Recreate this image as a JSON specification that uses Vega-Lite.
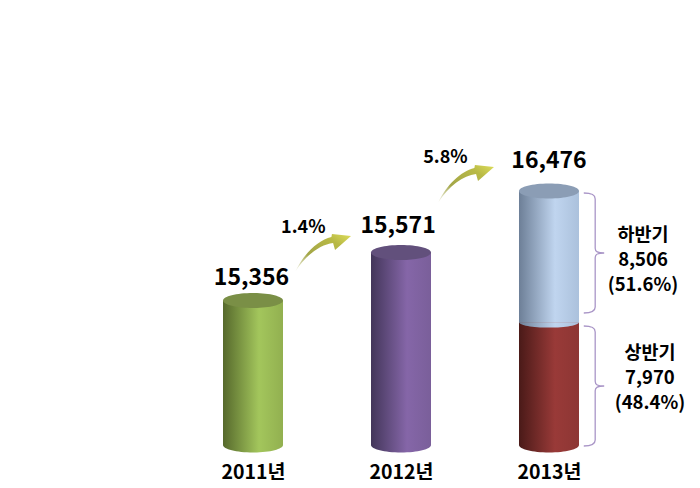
{
"$schema":"https://vega.github.io/schema/vega-lite/v6.json",
"width":700,"height":445,"autosize":{"type":"none"},"padding":{"left":0,"top":0,"right":0,"bottom":43},
"background":"white",
"config":{"view":{"stroke":null},"text":{"font":"Noto Sans CJK KR"}},
"datasets":{
"bars":[
{"year":2011,"segment":"2011년","base":0,"value":9373},
{"year":2012,"segment":"2012년","base":0,"value":12487},
{"year":2013,"segment":"상반기","base":0,"value":7970},
{"year":2013,"segment":"하반기","base":7970,"value":16476}],
"totals":[
{"year":2010.99,"value":10815,"text":"15,356"},
{"year":2011.98,"value":14190,"text":"15,571"},
{"year":2013,"value":18420,"text":"16,476"}],
"growth":[
{"year":2011.34,"value":14060,"text":"1.4%"},
{"year":2012.30,"value":18600,"text":"5.8%"}],
"arrows":[
{"year":2011.473,"value":12455},
{"year":2012.439,"value":16930}],
"braces":[
{"year":2013.304,"value":12455},
{"year":2013.304,"value":3827}],
"side":[
{"year":2013.635,"value":13620,"text":"하반기"},
{"year":2013.635,"value":12000,"text":"8,506"},
{"year":2013.635,"value":10380,"text":"(51.6%)"},
{"year":2013.682,"value":5950,"text":"상반기"},
{"year":2013.682,"value":4330,"text":"7,970"},
{"year":2013.682,"value":2710,"text":"(48.4%)"}]
},
"encoding":{
"x":{"field":"year","type":"quantitative","scale":{"domain":[2009.2905,2014.0203],"nice":false,"zero":false,"padding":0},
"axis":{"title":null,"values":[2011,2012,2013],"labelExpr":"datum.value + '년'","domain":false,"ticks":false,"grid":false,"labelPadding":18,"labelFont":"Noto Sans CJK KR","labelFontSize":19.5,"labelFontWeight":"bold","labelColor":"#000000","labelOverlap":false}},
"y":{"field":"value","type":"quantitative","scale":{"domain":[0,28866],"nice":false,"padding":0},"axis":null}
},
"layer":[
{"data":{"name":"bars"},"transform":[{"filter":"datum.segment=='2011년'"}],"mark":{"type":"bar","size":60,"orient":"vertical","color":{"x1":0,"x2":1,"y1":0,"y2":0,"gradient":"linear","stops":[{"offset":0,"color":"#56692c"},{"offset":0.6,"color":"#a3c65c"},{"offset":1,"color":"#92b050"}]}},"encoding":{"y2":{"field":"base"}}},
{"data":{"name":"bars"},"transform":[{"filter":"datum.segment=='2011년'"}],"mark":{"type":"point","filled":true,"opacity":1,"size":3600,"shape":"M-1,0 C-1,0.1381 -0.5523,0.25 0,0.25 C0.5523,0.25 1,0.1381 1,0 Z","fill":{"x1":0,"x2":1,"y1":0,"y2":0,"gradient":"linear","stops":[{"offset":0,"color":"#56692c"},{"offset":0.6,"color":"#a3c65c"},{"offset":1,"color":"#92b050"}]}},"encoding":{"y":{"field":"base","type":"quantitative"}}},
{"data":{"name":"bars"},"transform":[{"filter":"datum.segment=='2012년'"}],"mark":{"type":"bar","size":60,"orient":"vertical","color":{"x1":0,"x2":1,"y1":0,"y2":0,"gradient":"linear","stops":[{"offset":0,"color":"#43365a"},{"offset":0.6,"color":"#8566a8"},{"offset":1,"color":"#7a5f9a"}]}},"encoding":{"y2":{"field":"base"}}},
{"data":{"name":"bars"},"transform":[{"filter":"datum.segment=='2012년'"}],"mark":{"type":"point","filled":true,"opacity":1,"size":3600,"shape":"M-1,0 C-1,0.1381 -0.5523,0.25 0,0.25 C0.5523,0.25 1,0.1381 1,0 Z","fill":{"x1":0,"x2":1,"y1":0,"y2":0,"gradient":"linear","stops":[{"offset":0,"color":"#43365a"},{"offset":0.6,"color":"#8566a8"},{"offset":1,"color":"#7a5f9a"}]}},"encoding":{"y":{"field":"base","type":"quantitative"}}},
{"data":{"name":"bars"},"transform":[{"filter":"datum.segment=='상반기'"}],"mark":{"type":"bar","size":60,"orient":"vertical","color":{"x1":0,"x2":1,"y1":0,"y2":0,"gradient":"linear","stops":[{"offset":0,"color":"#4a1a18"},{"offset":0.6,"color":"#993a38"},{"offset":1,"color":"#8d3634"}]}},"encoding":{"y2":{"field":"base"}}},
{"data":{"name":"bars"},"transform":[{"filter":"datum.segment=='상반기'"}],"mark":{"type":"point","filled":true,"opacity":1,"size":3600,"shape":"M-1,0 C-1,0.1381 -0.5523,0.25 0,0.25 C0.5523,0.25 1,0.1381 1,0 Z","fill":{"x1":0,"x2":1,"y1":0,"y2":0,"gradient":"linear","stops":[{"offset":0,"color":"#4a1a18"},{"offset":0.6,"color":"#993a38"},{"offset":1,"color":"#8d3634"}]}},"encoding":{"y":{"field":"base","type":"quantitative"}}},
{"data":{"name":"bars"},"transform":[{"filter":"datum.segment=='하반기'"}],"mark":{"type":"bar","size":60,"orient":"vertical","color":{"x1":0,"x2":1,"y1":0,"y2":0,"gradient":"linear","stops":[{"offset":0,"color":"#6d7f97"},{"offset":0.6,"color":"#c0d5ef"},{"offset":1,"color":"#abc1dc"}]}},"encoding":{"y2":{"field":"base"}}},
{"data":{"name":"bars"},"transform":[{"filter":"datum.segment=='하반기'"}],"mark":{"type":"point","filled":true,"opacity":1,"size":3600,"shape":"M-1,0 C-1,0.1 -0.5523,0.18 0,0.18 C0.5523,0.18 1,0.1 1,0 Z","fill":{"x1":0,"x2":1,"y1":0,"y2":0,"gradient":"linear","stops":[{"offset":0,"color":"#6d7f97"},{"offset":0.6,"color":"#c0d5ef"},{"offset":1,"color":"#abc1dc"}]}},"encoding":{"y":{"field":"base","type":"quantitative"}}},
{"data":{"name":"bars"},"transform":[{"filter":"datum.segment!='상반기'"}],"mark":{"type":"point","filled":true,"opacity":1,"size":3600,"shape":"M-1,0 C-1,-0.1381 -0.5523,-0.25 0,-0.25 C0.5523,-0.25 1,-0.1381 1,0 C1,0.1381 0.5523,0.25 0,0.25 C-0.5523,0.25 -1,0.1381 -1,0 Z"},"encoding":{"color":{"field":"segment","type":"nominal","legend":null,"scale":{"domain":["2011년","2012년","하반기"],"range":["#7a8f46","#62507c","#8b9db5"]}}}},
{"data":{"name":"arrows"},"mark":{"type":"point","filled":true,"opacity":1,"size":3136,"shape":"M-1,0.68 C-0.7,0.05 -0.2,-0.45 0.3,-0.57 L0.32,-0.68 L1,-0.61 L0.43,-0.11 L0.36,-0.36 C-0.1,-0.3 -0.6,0.05 -1,0.68 Z","fill":{"x1":0,"x2":1,"y1":1,"y2":0,"gradient":"linear","stops":[{"offset":0,"color":"#ffffff"},{"offset":0.35,"color":"#a3a648"},{"offset":0.75,"color":"#b8b945"},{"offset":1,"color":"#dede5c"}]}}},
{"data":{"name":"braces"},"mark":{"type":"point","filled":false,"opacity":1,"size":14400,"strokeWidth":1.3,"stroke":"#a995c7","shape":"M-0.17,-1 C-0.05,-1 0.02,-0.98 0.02,-0.9 L0.02,-0.08 C0.02,-0.02 0.06,0 0.17,0 C0.06,0 0.02,0.02 0.02,0.08 L0.02,0.9 C0.02,0.98 -0.05,1 -0.17,1"}},
{"data":{"name":"totals"},"mark":{"type":"text","fontSize":23,"fontWeight":"bold","color":"#000000","baseline":"middle"},"encoding":{"text":{"field":"text","type":"nominal"}}},
{"data":{"name":"growth"},"mark":{"type":"text","fontSize":18,"fontWeight":"bold","color":"#000000","baseline":"middle"},"encoding":{"text":{"field":"text","type":"nominal"}}},
{"data":{"name":"side"},"mark":{"type":"text","fontSize":18.5,"fontWeight":"bold","color":"#000000","baseline":"middle"},"encoding":{"text":{"field":"text","type":"nominal"}}}
]
}
